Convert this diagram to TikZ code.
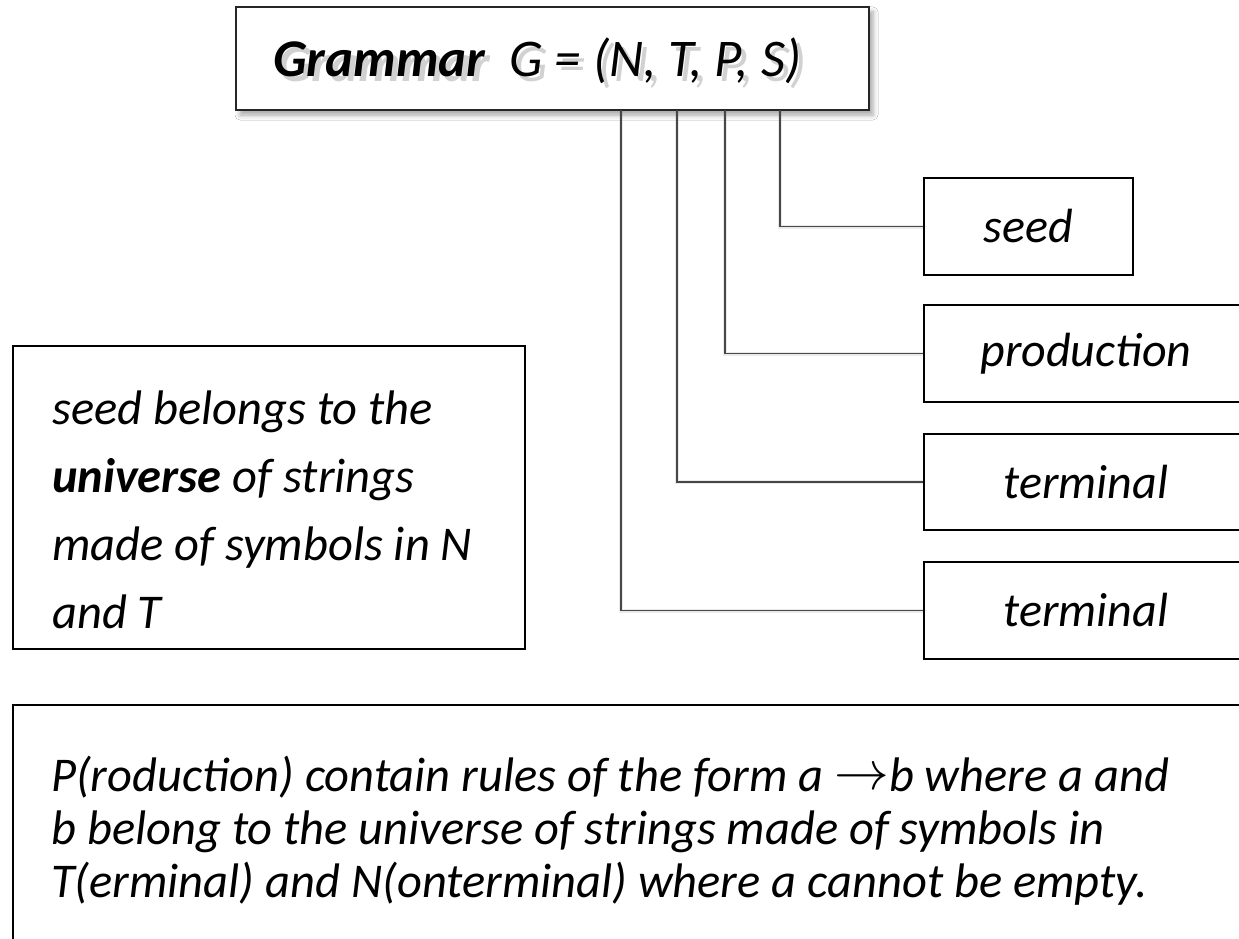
\documentclass[tikz,border=0pt]{standalone}
\usepackage{fontspec}
\usepackage{graphicx}
\setmainfont{Carlito}
\usetikzlibrary{shadows.blur}
\begin{document}
\begin{tikzpicture}[x=1pt,y=-1pt,
  box/.style={draw=black, line width=2.4pt, fill=white, inner sep=0pt,
    font=\fontsize{48}{56}\selectfont\itshape},
  link/.style={draw=black!72, line width=1.5pt},
  linkshadow/.style={draw=black, opacity=0.08, line width=4pt},
  bodytext/.style={anchor=north west, inner sep=0pt, align=left,
    font=\fontsize{48.5}{68}\selectfont\itshape},
  titletext/.style={anchor=base west, inner sep=0pt,
    font=\fontsize{53}{60}\selectfont}
]
\useasboundingbox (0,0) rectangle (1239,939);
\fill[white] (0,0) rectangle (1239,939);

% top box
\node[draw=black!85, line width=1.6pt, fill=white, minimum width=633pt, minimum height=103pt,
  blur shadow={shadow xshift=4pt, shadow yshift=-5pt, shadow blur radius=5pt, shadow opacity=35}]
  (gram) at (552.5,58.5) {};
\node[titletext, text=black, opacity=0.18] (titleshadow) at (278,82)
  {\bfseries\itshape Grammar\ \ \mdseries G = (N, T, P, S)};
\node[titletext] (title) at (273,77)
  {\bfseries\itshape Grammar\ \ \mdseries G = (N, T, P, S)};

% attachment points on the bottom of the top box
\coordinate (cN) at (621,110);
\coordinate (cT) at (677,110);
\coordinate (cP) at (725,110);
\coordinate (cS) at (780,110);

% right boxes
\node[box, minimum width=209pt, minimum height=97pt] (seed) at (1028.5,226.5) {seed};
\node[box, minimum width=324pt, minimum height=97pt] (prod) at (1086,353.5) {production};
\node[box, minimum width=324pt, minimum height=96pt] (term) at (1086,482) {terminal};
\node[box, minimum width=324pt, minimum height=97pt] (term2) at (1086,610.5) {terminal};

% connector shadows
\begin{scope}[shift={(2,4)}]
\draw[linkshadow] (cS) |- (seed.west);
\draw[linkshadow] (cP) |- (prod.west);
\draw[linkshadow] (cT) |- (term.west);
\draw[linkshadow] (cN) |- (term2.west);
\end{scope}
% connectors
\draw[link] (cS) |- (seed.west);
\draw[link] (cP) |- (prod.west);
\draw[link] (cT) |- (term.west);
\draw[link] (cN) |- (term2.west);

% left box
\node[draw=black, line width=2.4pt, fill=white, minimum width=512pt, minimum height=303pt]
  (seedbox) at (269,497.5) {};
\node[bodytext] (seedtext) at (52,391)
  {\rule{0pt}{32pt}seed belongs to the\\
   \textbf{universe} of strings\\
   made of symbols in N\\
   and T};

% bottom box
\node[draw=black, line width=2.4pt, fill=white, minimum width=1240pt, minimum height=250pt]
  (prodbox) at (633,830) {};
\node[bodytext, font=\fontsize{48.5}{53}\selectfont\itshape] (prodtext) at (51,756)
  {\rule{0pt}{32pt}P(roduction) contain rules of the form a \raisebox{2.5pt}{\scalebox{2.2}{$\rightarrow$}}b where a and\\
   b belong to the universe of strings made of symbols in\\
   T(erminal) and N(onterminal) where a cannot be empty.};
\end{tikzpicture}
\end{document}
